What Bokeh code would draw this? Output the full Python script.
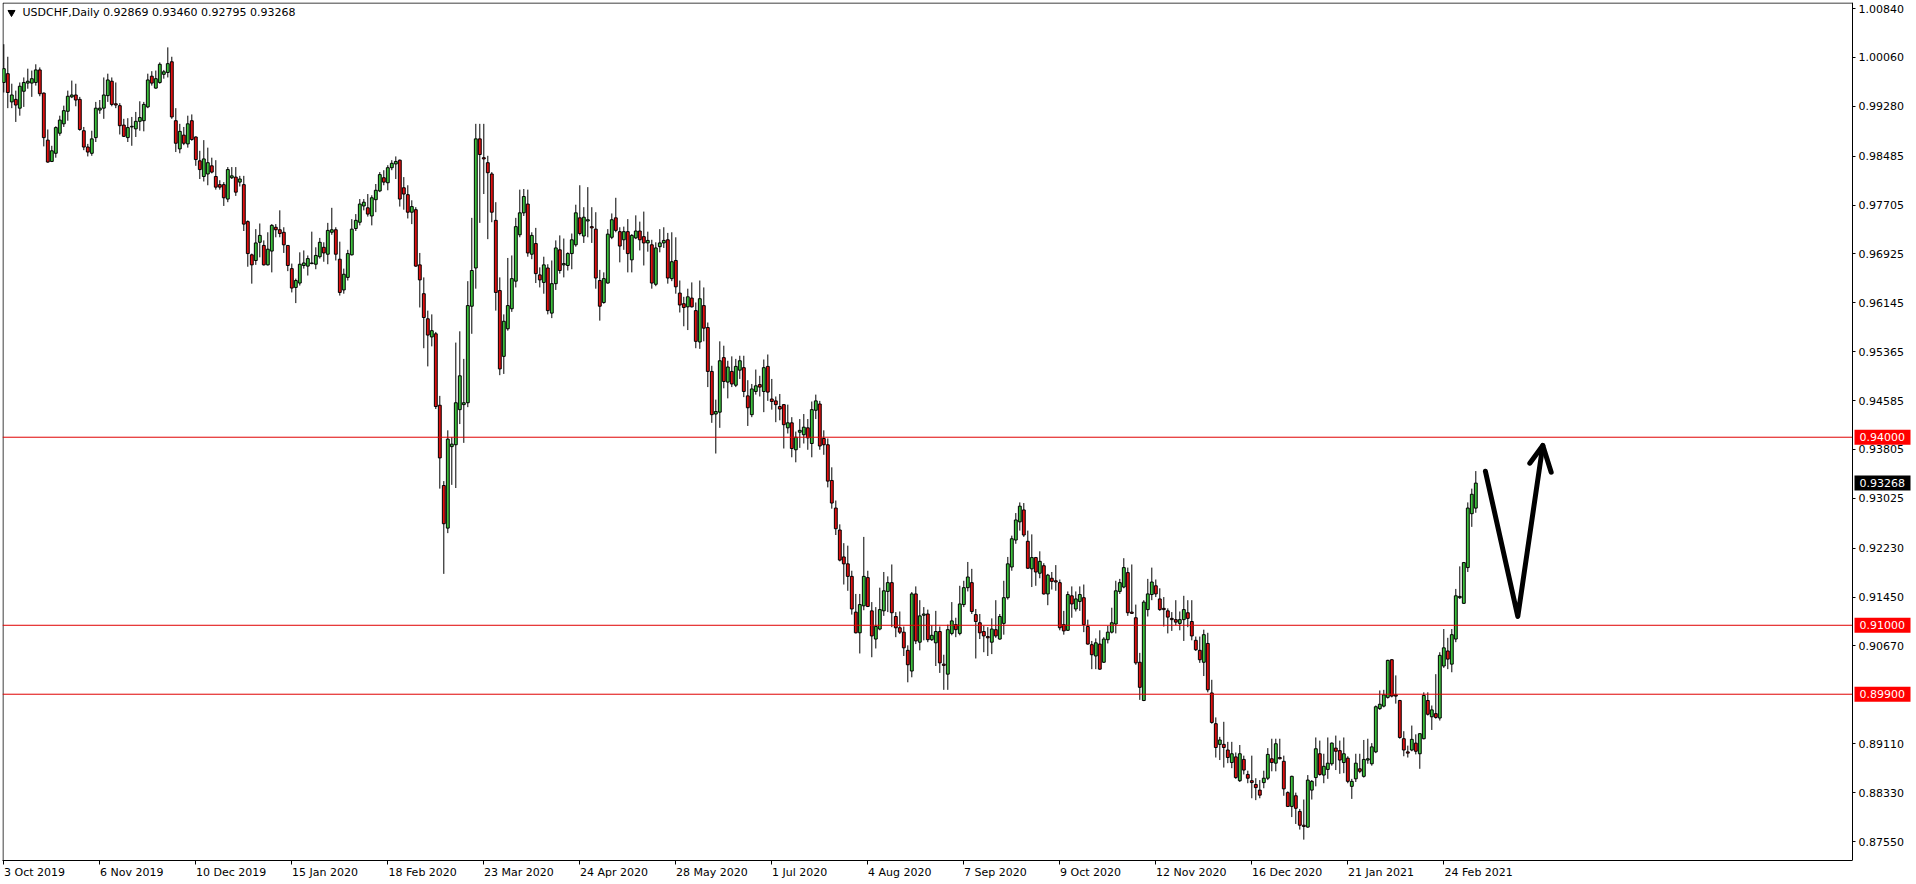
from bokeh.plotting import figure
from bokeh.models import (FixedTicker, LinearAxis, Range1d, PrintfTickFormatter,
                          ColumnDataSource, Label)
from bokeh.core.properties import value
from bokeh.embed import file_html
from bokeh.resources import INLINE

# ---------------- data (USDCHF daily) ----------------
OHLC = [
    (0.9966, 1.0027, 0.9950, 0.9988), (0.9980, 1.0007, 0.9925, 0.9950), (0.9935, 0.9964, 0.9925, 0.9946),
    (0.9939, 0.9953, 0.9903, 0.9930), (0.9925, 0.9966, 0.9913, 0.9960), (0.9952, 0.9974, 0.9927, 0.9966),
    (0.9965, 0.9988, 0.9956, 0.9968), (0.9965, 0.9985, 0.9943, 0.9972), (0.9966, 0.9995, 0.9961, 0.9986),
    (0.9986, 0.9990, 0.9944, 0.9948), (0.9949, 0.9950, 0.9864, 0.9878), (0.9874, 0.9891, 0.9838, 0.9839),
    (0.9840, 0.9865, 0.9839, 0.9857), (0.9853, 0.9896, 0.9846, 0.9894), (0.9885, 0.9913, 0.9881, 0.9906),
    (0.9900, 0.9929, 0.9895, 0.9921), (0.9920, 0.9953, 0.9905, 0.9944), (0.9943, 0.9969, 0.9941, 0.9946),
    (0.9946, 0.9964, 0.9928, 0.9938), (0.9939, 0.9943, 0.9889, 0.9891), (0.9889, 0.9895, 0.9858, 0.9863),
    (0.9863, 0.9868, 0.9848, 0.9855), (0.9853, 0.9889, 0.9849, 0.9876), (0.9878, 0.9935, 0.9871, 0.9925),
    (0.9922, 0.9938, 0.9916, 0.9925), (0.9925, 0.9974, 0.9908, 0.9946), (0.9945, 0.9980, 0.9935, 0.9970),
    (0.9968, 0.9974, 0.9928, 0.9931), (0.9932, 0.9966, 0.9925, 0.9930), (0.9929, 0.9933, 0.9883, 0.9897),
    (0.9898, 0.9908, 0.9879, 0.9880), (0.9878, 0.9909, 0.9871, 0.9894), (0.9895, 0.9911, 0.9865, 0.9896),
    (0.9892, 0.9919, 0.9879, 0.9904), (0.9904, 0.9936, 0.9889, 0.9910), (0.9905, 0.9935, 0.9888, 0.9931),
    (0.9927, 0.9980, 0.9925, 0.9970), (0.9976, 0.9984, 0.9961, 0.9965), (0.9957, 0.9985, 0.9956, 0.9972),
    (0.9966, 0.9998, 0.9964, 0.9995), (0.9979, 0.9986, 0.9972, 0.9983), (0.9982, 1.0022, 0.9974, 0.9996),
    (0.9999, 1.0007, 0.9908, 0.9911), (0.9905, 0.9925, 0.9855, 0.9869), (0.9860, 0.9900, 0.9853, 0.9888),
    (0.9882, 0.9895, 0.9866, 0.9869), (0.9868, 0.9913, 0.9862, 0.9900), (0.9905, 0.9915, 0.9873, 0.9875),
    (0.9879, 0.9880, 0.9833, 0.9843), (0.9841, 0.9857, 0.9812, 0.9827), (0.9816, 0.9874, 0.9808, 0.9844),
    (0.9820, 0.9862, 0.9802, 0.9838), (0.9833, 0.9846, 0.9821, 0.9823), (0.9816, 0.9842, 0.9795, 0.9799),
    (0.9803, 0.9810, 0.9795, 0.9799), (0.9803, 0.9807, 0.9769, 0.9782), (0.9780, 0.9831, 0.9775, 0.9827),
    (0.9814, 0.9831, 0.9812, 0.9817), (0.9815, 0.9831, 0.9785, 0.9791), (0.9807, 0.9817, 0.9800, 0.9812),
    (0.9803, 0.9817, 0.9729, 0.9740), (0.9744, 0.9746, 0.9672, 0.9693), (0.9691, 0.9693, 0.9645, 0.9675),
    (0.9682, 0.9732, 0.9675, 0.9710), (0.9711, 0.9741, 0.9687, 0.9722), (0.9706, 0.9714, 0.9674, 0.9675),
    (0.9675, 0.9727, 0.9674, 0.9700), (0.9697, 0.9740, 0.9663, 0.9738), (0.9735, 0.9740, 0.9719, 0.9731),
    (0.9731, 0.9762, 0.9719, 0.9725), (0.9727, 0.9735, 0.9694, 0.9707), (0.9706, 0.9706, 0.9665, 0.9674),
    (0.9669, 0.9677, 0.9631, 0.9638), (0.9639, 0.9653, 0.9614, 0.9650), (0.9646, 0.9695, 0.9642, 0.9676),
    (0.9674, 0.9698, 0.9669, 0.9678), (0.9673, 0.9690, 0.9658, 0.9685), (0.9677, 0.9728, 0.9676, 0.9678),
    (0.9676, 0.9703, 0.9668, 0.9690), (0.9688, 0.9718, 0.9685, 0.9711), (0.9703, 0.9711, 0.9680, 0.9694),
    (0.9692, 0.9742, 0.9676, 0.9730), (0.9727, 0.9766, 0.9723, 0.9731), (0.9731, 0.9735, 0.9682, 0.9692),
    (0.9684, 0.9712, 0.9626, 0.9631), (0.9635, 0.9669, 0.9629, 0.9660), (0.9655, 0.9699, 0.9650, 0.9693),
    (0.9691, 0.9748, 0.9690, 0.9732), (0.9733, 0.9756, 0.9729, 0.9746), (0.9743, 0.9780, 0.9738, 0.9772),
    (0.9769, 0.9780, 0.9762, 0.9775), (0.9766, 0.9788, 0.9752, 0.9756), (0.9753, 0.9786, 0.9738, 0.9782),
    (0.9779, 0.9804, 0.9759, 0.9794), (0.9793, 0.9823, 0.9791, 0.9819), (0.9814, 0.9826, 0.9802, 0.9807),
    (0.9806, 0.9834, 0.9794, 0.9830), (0.9830, 0.9842, 0.9826, 0.9837), (0.9836, 0.9848, 0.9812, 0.9840),
    (0.9842, 0.9843, 0.9768, 0.9780), (0.9798, 0.9815, 0.9763, 0.9788), (0.9787, 0.9802, 0.9749, 0.9759),
    (0.9759, 0.9778, 0.9740, 0.9768), (0.9763, 0.9767, 0.9672, 0.9673), (0.9675, 0.9694, 0.9607, 0.9651),
    (0.9629, 0.9655, 0.9542, 0.9591), (0.9589, 0.9602, 0.9513, 0.9563), (0.9560, 0.9596, 0.9545, 0.9570),
    (0.9565, 0.9568, 0.9445, 0.9449), (0.9451, 0.9466, 0.9318, 0.9367), (0.9323, 0.9330, 0.9182, 0.9262),
    (0.9255, 0.9411, 0.9247, 0.9397), (0.9385, 0.9400, 0.9324, 0.9389), (0.9388, 0.9551, 0.9319, 0.9455),
    (0.9444, 0.9569, 0.9421, 0.9498), (0.9452, 0.9525, 0.9391, 0.9455), (0.9455, 0.9649, 0.9448, 0.9610),
    (0.9609, 0.9750, 0.9565, 0.9666), (0.9670, 0.9900, 0.9637, 0.9876), (0.9876, 0.9900, 0.9742, 0.9851),
    (0.9846, 0.9900, 0.9788, 0.9844), (0.9838, 0.9849, 0.9716, 0.9822), (0.9820, 0.9823, 0.9743, 0.9759),
    (0.9746, 0.9775, 0.9602, 0.9631), (0.9634, 0.9655, 0.9499, 0.9509), (0.9529, 0.9596, 0.9501, 0.9585),
    (0.9573, 0.9686, 0.9570, 0.9610), (0.9605, 0.9690, 0.9600, 0.9653), (0.9649, 0.9750, 0.9639, 0.9736),
    (0.9723, 0.9795, 0.9719, 0.9758), (0.9758, 0.9796, 0.9753, 0.9784), (0.9772, 0.9795, 0.9688, 0.9694),
    (0.9692, 0.9727, 0.9684, 0.9722), (0.9709, 0.9734, 0.9646, 0.9661), (0.9659, 0.9671, 0.9639, 0.9651),
    (0.9647, 0.9688, 0.9629, 0.9675), (0.9670, 0.9676, 0.9596, 0.9602), (0.9598, 0.9682, 0.9590, 0.9645),
    (0.9645, 0.9714, 0.9635, 0.9702), (0.9699, 0.9722, 0.9661, 0.9666), (0.9675, 0.9717, 0.9655, 0.9677),
    (0.9674, 0.9695, 0.9666, 0.9693), (0.9693, 0.9725, 0.9668, 0.9715), (0.9707, 0.9771, 0.9704, 0.9758),
    (0.9750, 0.9802, 0.9722, 0.9725), (0.9721, 0.9767, 0.9710, 0.9751), (0.9745, 0.9799, 0.9719, 0.9747),
    (0.9736, 0.9767, 0.9710, 0.9734), (0.9732, 0.9759, 0.9637, 0.9654), (0.9650, 0.9667, 0.9586, 0.9609),
    (0.9615, 0.9663, 0.9613, 0.9653), (0.9646, 0.9732, 0.9645, 0.9724), (0.9719, 0.9757, 0.9716, 0.9747),
    (0.9750, 0.9782, 0.9727, 0.9730), (0.9728, 0.9735, 0.9679, 0.9705), (0.9715, 0.9736, 0.9699, 0.9728),
    (0.9728, 0.9748, 0.9663, 0.9693), (0.9683, 0.9724, 0.9663, 0.9722), (0.9718, 0.9754, 0.9716, 0.9729),
    (0.9729, 0.9744, 0.9698, 0.9715), (0.9720, 0.9760, 0.9674, 0.9710), (0.9710, 0.9728, 0.9696, 0.9714),
    (0.9707, 0.9715, 0.9637, 0.9646), (0.9644, 0.9711, 0.9641, 0.9702), (0.9704, 0.9732, 0.9695, 0.9710),
    (0.9710, 0.9735, 0.9702, 0.9714), (0.9715, 0.9726, 0.9645, 0.9654), (0.9653, 0.9727, 0.9649, 0.9680),
    (0.9682, 0.9719, 0.9629, 0.9640), (0.9630, 0.9650, 0.9599, 0.9611), (0.9613, 0.9624, 0.9577, 0.9607),
    (0.9608, 0.9637, 0.9571, 0.9624), (0.9622, 0.9647, 0.9607, 0.9608), (0.9602, 0.9615, 0.9542, 0.9553),
    (0.9552, 0.9650, 0.9541, 0.9621), (0.9610, 0.9639, 0.9553, 0.9574), (0.9575, 0.9583, 0.9480, 0.9505),
    (0.9505, 0.9514, 0.9423, 0.9436), (0.9437, 0.9460, 0.9374, 0.9441), (0.9440, 0.9553, 0.9415, 0.9522),
    (0.9527, 0.9546, 0.9478, 0.9489), (0.9488, 0.9522, 0.9462, 0.9512), (0.9505, 0.9529, 0.9480, 0.9485),
    (0.9483, 0.9525, 0.9480, 0.9513), (0.9507, 0.9530, 0.9493, 0.9522), (0.9511, 0.9530, 0.9464, 0.9473),
    (0.9466, 0.9491, 0.9418, 0.9447), (0.9436, 0.9485, 0.9432, 0.9477), (0.9473, 0.9508, 0.9468, 0.9482),
    (0.9484, 0.9498, 0.9465, 0.9480), (0.9473, 0.9524, 0.9440, 0.9511), (0.9513, 0.9532, 0.9458, 0.9472),
    (0.9461, 0.9493, 0.9444, 0.9457), (0.9458, 0.9465, 0.9424, 0.9452), (0.9449, 0.9469, 0.9427, 0.9445),
    (0.9452, 0.9453, 0.9382, 0.9420), (0.9415, 0.9452, 0.9406, 0.9423), (0.9423, 0.9432, 0.9368, 0.9382),
    (0.9380, 0.9409, 0.9360, 0.9400), (0.9408, 0.9429, 0.9383, 0.9411), (0.9404, 0.9437, 0.9390, 0.9416),
    (0.9415, 0.9429, 0.9380, 0.9399), (0.9390, 0.9457, 0.9368, 0.9444), (0.9443, 0.9468, 0.9429, 0.9458),
    (0.9453, 0.9458, 0.9380, 0.9386), (0.9398, 0.9411, 0.9372, 0.9388), (0.9388, 0.9398, 0.9320, 0.9330),
    (0.9331, 0.9352, 0.9286, 0.9295), (0.9287, 0.9299, 0.9244, 0.9254), (0.9252, 0.9261, 0.9202, 0.9204),
    (0.9209, 0.9231, 0.9165, 0.9198), (0.9198, 0.9227, 0.9155, 0.9178), (0.9178, 0.9187, 0.9117, 0.9126),
    (0.9121, 0.9150, 0.9087, 0.9088), (0.9088, 0.9150, 0.9055, 0.9133), (0.9131, 0.9241, 0.9124, 0.9178),
    (0.9176, 0.9187, 0.9129, 0.9130), (0.9123, 0.9137, 0.9049, 0.9083), (0.9078, 0.9129, 0.9063, 0.9098),
    (0.9094, 0.9160, 0.9092, 0.9125), (0.9123, 0.9185, 0.9115, 0.9155), (0.9154, 0.9178, 0.9121, 0.9168),
    (0.9168, 0.9197, 0.9097, 0.9120), (0.9114, 0.9121, 0.9081, 0.9096), (0.9096, 0.9122, 0.9086, 0.9089),
    (0.9089, 0.9098, 0.9051, 0.9064), (0.9060, 0.9068, 0.9009, 0.9037), (0.9027, 0.9153, 0.9017, 0.9150),
    (0.9150, 0.9162, 0.9070, 0.9075), (0.9073, 0.9140, 0.9060, 0.9115), (0.9116, 0.9129, 0.9076, 0.9118),
    (0.9118, 0.9125, 0.9073, 0.9077), (0.9077, 0.9100, 0.9075, 0.9084), (0.9072, 0.9123, 0.9035, 0.9090),
    (0.9090, 0.9098, 0.9024, 0.9040), (0.9038, 0.9053, 0.8997, 0.9036), (0.9022, 0.9101, 0.8997, 0.9093),
    (0.9087, 0.9137, 0.9084, 0.9107), (0.9101, 0.9112, 0.9081, 0.9093), (0.9087, 0.9163, 0.9084, 0.9134),
    (0.9133, 0.9171, 0.9129, 0.9160), (0.9160, 0.9201, 0.9154, 0.9177), (0.9168, 0.9190, 0.9118, 0.9122),
    (0.9117, 0.9126, 0.9047, 0.9106), (0.9104, 0.9118, 0.9078, 0.9088), (0.9090, 0.9099, 0.9057, 0.9083),
    (0.9082, 0.9097, 0.9051, 0.9080), (0.9073, 0.9111, 0.9054, 0.9094), (0.9093, 0.9140, 0.9080, 0.9083),
    (0.9078, 0.9118, 0.9077, 0.9114), (0.9103, 0.9171, 0.9085, 0.9144), (0.9144, 0.9209, 0.9141, 0.9198),
    (0.9193, 0.9243, 0.9187, 0.9238), (0.9236, 0.9279, 0.9230, 0.9268), (0.9265, 0.9296, 0.9251, 0.9290),
    (0.9284, 0.9295, 0.9241, 0.9244), (0.9234, 0.9251, 0.9190, 0.9191), (0.9190, 0.9245, 0.9161, 0.9208),
    (0.9208, 0.9209, 0.9163, 0.9185), (0.9183, 0.9218, 0.9175, 0.9202), (0.9195, 0.9199, 0.9149, 0.9150),
    (0.9150, 0.9182, 0.9132, 0.9180), (0.9175, 0.9185, 0.9157, 0.9170), (0.9171, 0.9196, 0.9155, 0.9169),
    (0.9168, 0.9173, 0.9092, 0.9096), (0.9101, 0.9123, 0.9085, 0.9091), (0.9092, 0.9154, 0.9091, 0.9149),
    (0.9147, 0.9162, 0.9112, 0.9134), (0.9126, 0.9154, 0.9122, 0.9142), (0.9138, 0.9162, 0.9123, 0.9149),
    (0.9144, 0.9165, 0.9089, 0.9101), (0.9098, 0.9109, 0.9069, 0.9070), (0.9069, 0.9075, 0.9030, 0.9053),
    (0.9051, 0.9079, 0.9030, 0.9072), (0.9070, 0.9092, 0.9029, 0.9030), (0.9041, 0.9081, 0.9040, 0.9078),
    (0.9077, 0.9099, 0.9071, 0.9089), (0.9089, 0.9128, 0.9087, 0.9104), (0.9102, 0.9171, 0.9087, 0.9155),
    (0.9154, 0.9174, 0.9150, 0.9168), (0.9161, 0.9207, 0.9159, 0.9192), (0.9184, 0.9192, 0.9115, 0.9120),
    (0.9121, 0.9197, 0.9118, 0.9119), (0.9112, 0.9133, 0.9037, 0.9040), (0.9041, 0.9056, 0.8981, 0.9001),
    (0.8980, 0.9140, 0.8979, 0.9137), (0.9125, 0.9174, 0.9114, 0.9150), (0.9149, 0.9192, 0.9140, 0.9169),
    (0.9163, 0.9173, 0.9145, 0.9150), (0.9142, 0.9159, 0.9123, 0.9125), (0.9127, 0.9145, 0.9098, 0.9125),
    (0.9123, 0.9127, 0.9087, 0.9113), (0.9111, 0.9121, 0.9091, 0.9109), (0.9109, 0.9140, 0.9100, 0.9105),
    (0.9103, 0.9122, 0.9092, 0.9109), (0.9109, 0.9147, 0.9075, 0.9125), (0.9120, 0.9140, 0.9097, 0.9111),
    (0.9106, 0.9140, 0.9076, 0.9083), (0.9076, 0.9082, 0.9059, 0.9061), (0.9060, 0.9082, 0.9040, 0.9045),
    (0.9041, 0.9093, 0.9019, 0.9085), (0.9071, 0.9088, 0.8993, 0.8997), (0.8992, 0.9013, 0.8943, 0.8945),
    (0.8943, 0.8953, 0.8889, 0.8905), (0.8910, 0.8922, 0.8885, 0.8917), (0.8910, 0.8946, 0.8873, 0.8905),
    (0.8901, 0.8914, 0.8880, 0.8889), (0.8881, 0.8914, 0.8872, 0.8895), (0.8890, 0.8897, 0.8855, 0.8857),
    (0.8852, 0.8909, 0.8850, 0.8895), (0.8886, 0.8892, 0.8862, 0.8869), (0.8862, 0.8868, 0.8848, 0.8856),
    (0.8852, 0.8892, 0.8824, 0.8849), (0.8846, 0.8856, 0.8821, 0.8841), (0.8837, 0.8853, 0.8824, 0.8829),
    (0.8849, 0.8868, 0.8840, 0.8856), (0.8856, 0.8904, 0.8853, 0.8894), (0.8887, 0.8919, 0.8867, 0.8881),
    (0.8880, 0.8919, 0.8867, 0.8911), (0.8889, 0.8919, 0.8886, 0.8887), (0.8883, 0.8892, 0.8828, 0.8839),
    (0.8833, 0.8835, 0.8810, 0.8811), (0.8811, 0.8860, 0.8794, 0.8859), (0.8828, 0.8833, 0.8783, 0.8808),
    (0.8803, 0.8807, 0.8774, 0.8781), (0.8781, 0.8822, 0.8758, 0.8779), (0.8778, 0.8861, 0.8777, 0.8853),
    (0.8837, 0.8853, 0.8822, 0.8851), (0.8857, 0.8921, 0.8843, 0.8903), (0.8895, 0.8916, 0.8860, 0.8862),
    (0.8861, 0.8895, 0.8848, 0.8875), (0.8870, 0.8921, 0.8855, 0.8880), (0.8879, 0.8913, 0.8876, 0.8912),
    (0.8904, 0.8924, 0.8869, 0.8899), (0.8900, 0.8916, 0.8863, 0.8885), (0.8881, 0.8921, 0.8864, 0.8895),
    (0.8888, 0.8891, 0.8848, 0.8851), (0.8843, 0.8855, 0.8823, 0.8851), (0.8855, 0.8895, 0.8850, 0.8880),
    (0.8871, 0.8895, 0.8864, 0.8867), (0.8859, 0.8917, 0.8857, 0.8886), (0.8885, 0.8919, 0.8879, 0.8887),
    (0.8879, 0.8912, 0.8876, 0.8906), (0.8898, 0.8972, 0.8896, 0.8970), (0.8967, 0.8996, 0.8965, 0.8974),
    (0.8971, 0.8997, 0.8969, 0.8989), (0.8985, 0.9045, 0.8983, 0.9044), (0.9045, 0.9046, 0.8985, 0.8987),
    (0.8989, 0.9020, 0.8975, 0.8987), (0.8980, 0.8981, 0.8919, 0.8921), (0.8919, 0.8931, 0.8891, 0.8901),
    (0.8898, 0.8908, 0.8889, 0.8896), (0.8901, 0.8940, 0.8899, 0.8918), (0.8912, 0.8926, 0.8894, 0.8899),
    (0.8895, 0.8928, 0.8871, 0.8927), (0.8919, 0.8993, 0.8918, 0.8988), (0.8980, 0.8993, 0.8956, 0.8958),
    (0.8954, 0.8972, 0.8933, 0.8965), (0.8959, 0.9022, 0.8951, 0.8953), (0.8952, 0.9057, 0.8948, 0.9052),
    (0.9035, 0.9094, 0.9032, 0.9064), (0.9059, 0.9080, 0.9030, 0.9046), (0.9038, 0.9094, 0.9025, 0.9085),
    (0.9078, 0.9158, 0.9073, 0.9147), (0.9144, 0.9194, 0.9142, 0.9146), (0.9135, 0.9201, 0.9134, 0.9200),
    (0.9192, 0.9296, 0.9185, 0.9287), (0.9278, 0.9318, 0.9257, 0.9309), (0.92869, 0.93460, 0.92795, 0.93268),
]
OPEN = [r[0] for r in OHLC]
HIGH = [r[1] for r in OHLC]
LOW = [r[2] for r in OHLC]
CLOSE = [r[3] for r in OHLC]

DATE_TICKS = [0, 24, 48, 72, 96, 120, 144, 168, 192, 216, 240, 264, 288, 312, 336, 360]
DATE_LABELS = ["3 Oct 2019", "6 Nov 2019", "10 Dec 2019", "15 Jan 2020", "18 Feb 2020",
               "23 Mar 2020", "24 Apr 2020", "28 May 2020", "1 Jul 2020", "4 Aug 2020",
               "7 Sep 2020", "9 Oct 2020", "12 Nov 2020", "16 Dec 2020", "21 Jan 2021",
               "24 Feb 2021"]
PRICE_TICKS = [1.00840, 1.00060, 0.99280, 0.98485, 0.97705, 0.96925, 0.96145, 0.95365,
               0.94585, 0.93805, 0.93025, 0.92230, 0.91450, 0.90670, 0.89110, 0.88330, 0.87550]
LEVELS = [0.94000, 0.91000, 0.89900]
LAST_PRICE = 0.93268
SYMBOL = "USDCHF,Daily"
LAST_BAR_TEXT = "0.92869 0.93460 0.92795 0.93268"
# hand-drawn arrow (bar index, price)
ARROW_X = [370.4, 378.5, 384.75]
ARROW_Y = [0.93458, 0.91140, 0.93868]
HEAD_X = [381.5, 384.75, 386.85]
HEAD_Y = [0.93586, 0.93868, 0.93442]

GREEN = "#3CC03C"
RED = "#E01010"
LEVEL_RED = "#E00000"
BOX_RED = "#FF0000"
FONT = "DejaVu Sans"
FS = 11  # px

# ---------------- layout (page is drawn at 0,0) ----------------
W, H = 1916, 884
FL, FT, FB = 2, 2, 860          # chart edges on the page
BORDER_X = 1852                 # right edge of the chart / price scale line
PX_PER_BAR = 4.0
X0 = (FL - 3.3) / PX_PER_BAR    # first candle sits 1.3 px inside the chart
X1 = X0 + (W - FL) / PX_PER_BAR # frame runs to the page edge, price scale drawn inside it
XB = X0 + (BORDER_X - FL) / PX_PER_BAR
PX_PER_UNIT = 6268.0
Y1 = 1.00840 + (8 - FT) / PX_PER_UNIT
Y0 = Y1 - (FB - FT) / PX_PER_UNIT

p = figure(width=W, height=H, output_backend="svg", toolbar_location=None,
           x_range=Range1d(X0, X1), y_range=Range1d(Y0, Y1),
           x_axis_location=None, y_axis_location=None,
           min_border_left=FL, min_border_top=FT, min_border_right=0,
           min_border_bottom=H - FB)
p.background_fill_color = "white"
p.border_fill_color = "white"
p.outline_line_color = None
for g in p.grid:
    g.visible = False

# approximate advance widths of DejaVu Sans (em) to left-align date labels on their ticks
CW = {" ": 0.318, ".": 0.318, "O": 0.787, "c": 0.550, "t": 0.392, "N": 0.748, "o": 0.612,
      "v": 0.592, "D": 0.770, "e": 0.615, "J": 0.295, "a": 0.613, "n": 0.634, "F": 0.575,
      "b": 0.635, "M": 0.863, "r": 0.411, "A": 0.684, "p": 0.635, "y": 0.592, "u": 0.634,
      "l": 0.278, "g": 0.635, "S": 0.635}


def text_w(s):
    return FS * sum(CW.get(ch, 0.636) for ch in s)


# bottom axis 1: chart bottom line and tick marks
xa = LinearAxis(ticker=FixedTicker(ticks=DATE_TICKS, minor_ticks=[]),
                major_label_overrides={t: "" for t in DATE_TICKS}, bounds=(X0, XB))
xa.major_label_text_font_size = "0px"
xa.major_label_standoff = 0
xa.major_tick_in = 0
xa.major_tick_out = 4
xa.minor_tick_out = 0
xa.axis_line_color = "black"
xa.major_tick_line_color = "black"
p.add_layout(xa, "below")

# bottom axis 2: labels, each starting at its tick like the terminal does
lab_pos = [round(t + (text_w(l) / 2 + 0.3) / PX_PER_BAR, 3) for t, l in zip(DATE_TICKS, DATE_LABELS)]
xb = LinearAxis(ticker=FixedTicker(ticks=lab_pos, minor_ticks=[]),
                major_label_overrides={pos: l for pos, l in zip(lab_pos, DATE_LABELS)})
xb.major_label_text_font = FONT
xb.major_label_text_font_size = "%dpx" % FS
xb.major_label_text_color = "black"
xb.major_label_standoff = 1
xb.major_tick_in = 0
xb.major_tick_out = 0
xb.minor_tick_out = 0
xb.axis_line_color = None
xb.major_tick_line_color = None
p.add_layout(xb, "below")

# right price axis, pinned at the chart's right edge
ya = LinearAxis(ticker=FixedTicker(ticks=PRICE_TICKS, minor_ticks=[]),
                formatter=PrintfTickFormatter(format="%.5f"), fixed_location=XB)
ya.major_label_text_font = FONT
ya.major_label_text_font_size = "%dpx" % FS
ya.major_label_text_color = "black"
ya.major_label_standoff = 3
ya.major_tick_in = 0
ya.major_tick_out = 3
ya.minor_tick_out = 0
ya.axis_line_color = "black"
p.add_layout(ya, "right")

# left and top edges of the chart
p.line([XB, X0 + 0.5 / PX_PER_BAR, X0 + 0.5 / PX_PER_BAR],
       [Y1 - 0.5 / PX_PER_UNIT, Y1 - 0.5 / PX_PER_UNIT, Y0],
       line_color="black", line_width=1)

# candles
n = len(OPEN)
src = ColumnDataSource(dict(
    x=list(range(n)), high=HIGH, low=LOW,
    top=[max(o, c) for o, c in zip(OPEN, CLOSE)],
    bottom=[min(o, c) for o, c in zip(OPEN, CLOSE)],
    color=[GREEN if c >= o else RED for o, c in zip(OPEN, CLOSE)],
))
p.segment(x0="x", y0="low", x1="x", y1="high", source=src, line_color="black", line_width=1)
p.vbar(x="x", width=0.72, top="top", bottom="bottom", source=src,
       fill_color="color", line_color="black", line_width=1)

# horizontal levels, stopping at the price scale
p.segment(x0=[X0] * len(LEVELS), y0=LEVELS, x1=[XB] * len(LEVELS), y1=LEVELS,
          line_color=LEVEL_RED, line_width=1)

# arrow
p.line(ARROW_X, ARROW_Y, line_color="black", line_width=5, line_cap="round", line_join="round")
p.line(HEAD_X, HEAD_Y, line_color="black", line_width=5, line_cap="round", line_join="round")

# price boxes on the price scale
box_ys = LEVELS + [LAST_PRICE]
box_cols = [BOX_RED] * len(LEVELS) + ["black"]
box_txt = ["%.5f" % v for v in box_ys]
p.rect(x=[XB + 30 / PX_PER_BAR] * len(box_ys), y=box_ys, width=56 / PX_PER_BAR,
       height=15 / PX_PER_UNIT, fill_color=box_cols, line_color=None)
p.text(x=[XB + 7 / PX_PER_BAR] * len(box_ys), y=box_ys, text=box_txt, text_color="white",
       text_font=value(FONT), text_font_size=value("%dpx" % FS), text_baseline="middle",
       text_align="left")

# header (symbol + last bar OHLC)
ytitle = Y1 - 10 / PX_PER_UNIT
p.scatter([X0 + 9 / PX_PER_BAR], [ytitle], marker="inverted_triangle", size=7,
          fill_color="black", line_color="black")
p.add_layout(Label(x=X0 + 20 / PX_PER_BAR, y=ytitle, text=SYMBOL + "  " + LAST_BAR_TEXT,
                   text_font=FONT, text_font_size="%dpx" % FS, text_color="black",
                   text_baseline="middle"))

open("out.html", "w").write(file_html(p, INLINE))
